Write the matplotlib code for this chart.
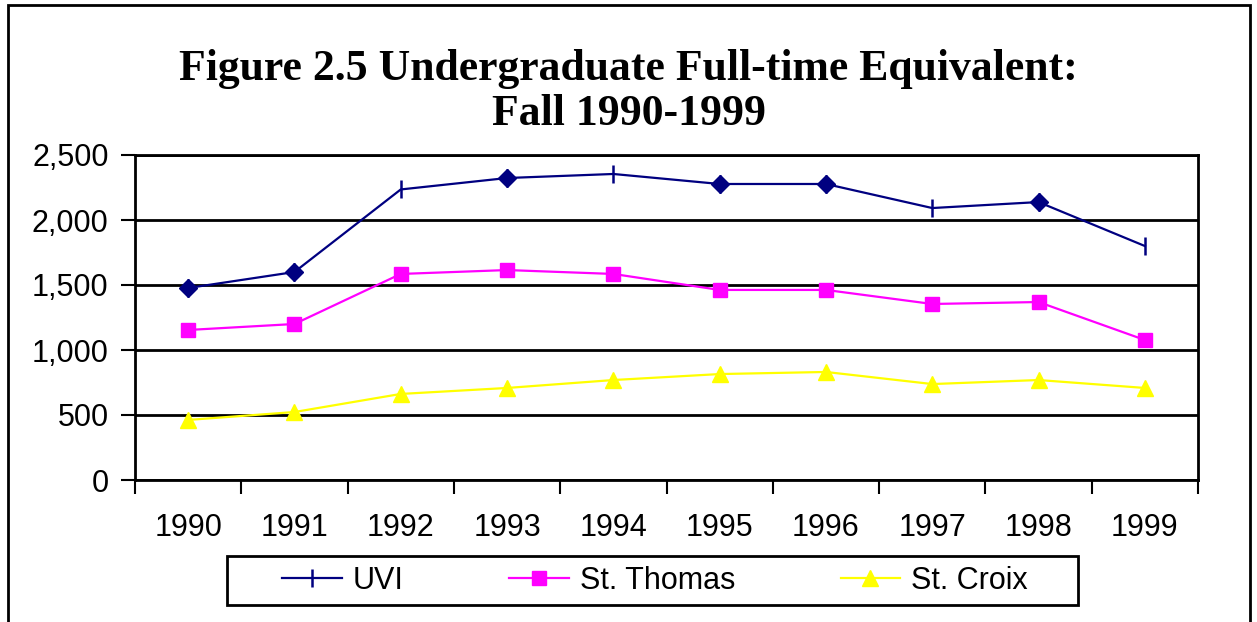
import matplotlib
matplotlib.use('Agg')
import matplotlib.pyplot as plt
import numpy as np

# data
years = ['1990', '1991', '1992', '1993', '1994', '1995', '1996', '1997', '1998', '1999']
uvi = [1477, 1600, 2235, 2323, 2354, 2277, 2277, 2092, 2138, 1800]
st_thomas = [1154, 1200, 1585, 1615, 1585, 1462, 1462, 1354, 1369, 1077]
st_croix = [462, 523, 662, 708, 769, 815, 831, 738, 769, 708]
# the UVI points that show a diamond instead of the tick
uvi_diamond_idx = [0, 1, 3, 5, 6, 8]

navy, magenta, yellow = '#000080', '#FF00FF', '#FFFF00'

W, H = 1257, 622
fig = plt.figure(figsize=(W/100, H/100), dpi=100)
# outer frame of the chart (bottom edge is cut off in the original)
fig.patches.append(plt.Rectangle((8/W, -0.05), (1250-8)/W, 1 - 5/H + 0.05,
                                 transform=fig.transFigure, fill=False,
                                 edgecolor='black', linewidth=2))
# legend box
fig.patches.append(plt.Rectangle((227/W, 1 - 605/H), (1078-227)/W, (605-556)/H,
                                 transform=fig.transFigure, fill=False,
                                 edgecolor='black', linewidth=2))

ax = fig.add_axes([135/W, 1 - 480/H, (1198-135)/W, (480-155)/H])
x = np.arange(len(years))

ax.plot(x, uvi, color=navy, lw=1.6, marker='|', ms=13, mew=1.8, label='UVI')
ax.plot(x[uvi_diamond_idx], np.array(uvi)[uvi_diamond_idx], ls='none', marker='D',
        ms=9, color=navy)
ax.plot(x, st_thomas, color=magenta, lw=1.6, marker='s', ms=10, label='St. Thomas')
ax.plot(x, st_croix, color=yellow, lw=1.6, marker='^', ms=12, label='St. Croix')

ax.set_xlim(-0.5, len(years) - 0.5)
ax.set_ylim(0, 2500)
ax.set_yticks(range(0, 2501, 500))
ax.set_yticklabels(['{:,}'.format(v) for v in range(0, 2501, 500)])
ax.yaxis.grid(True, color='black', lw=2)
ax.set_axisbelow(True)

ax.set_xticks(x)
ax.set_xticklabels(years)
ax.set_xticks(np.arange(-0.5, len(years)), minor=True)
ax.tick_params(axis='x', which='major', length=0, pad=24)
ax.tick_params(axis='x', which='minor', length=10, width=1.5, direction='out')
ax.tick_params(axis='y', length=10, width=1.5, direction='out', pad=9)
ax.tick_params(labelsize=22)
for lab in ax.get_xticklabels() + ax.get_yticklabels():
    lab.set_fontfamily('Liberation Sans')
for s in ax.spines.values():
    s.set_linewidth(2)

fig.text(0.5, 1 - 69/H, 'Figure 2.5 Undergraduate Full-time Equivalent:',
         ha='center', va='center', fontsize=31.5, fontweight='bold',
         family='Liberation Serif')
fig.text(0.5, 1 - 114/H, 'Fall 1990-1999', ha='center', va='center',
         fontsize=31.5, fontweight='bold', family='Liberation Serif')

leg = fig.legend(loc='center', bbox_to_anchor=(655/W, 1 - 581/H), ncol=3,
                 frameon=False, prop={'family': 'Liberation Sans', 'size': 22},
                 handlelength=1.96, handletextpad=0.35, columnspacing=3.45,
                 borderpad=0.3)

fig.savefig('out.png', dpi=100)
